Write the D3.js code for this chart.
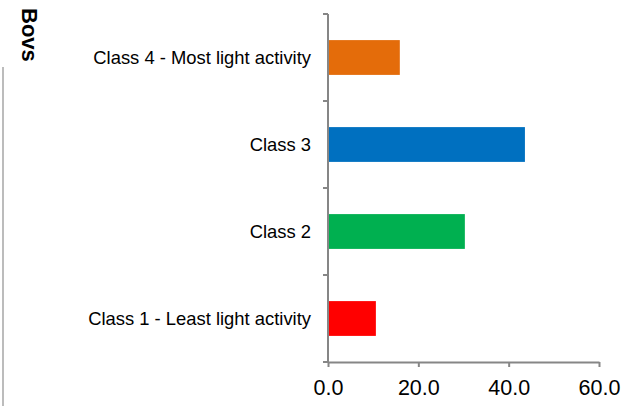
<!DOCTYPE html>
<html><head><meta charset="utf-8">
<script src="https://cdn.jsdelivr.net/npm/d3@7"></script>
<style>body{margin:0;background:#fff}svg{display:block}</style>
</head><body>
<script>
const categories = ["Class 4 - Most light activity","Class 3","Class 2","Class 1 - Least light activity"];
const values = [15.9, 43.6, 30.3, 10.6];
const colors = ["#E46C0A","#0070C0","#00B050","#FF0000"];
const xTicks = [0, 20, 40, 60];
const title = "Bovs";

(function(){
const W = 640, H = 406;
const FONT = "'Liberation Sans', Arial, sans-serif";
const svg = d3.select("body").append("svg").attr("width", W).attr("height", H);
const mLeft = 328, mRight = 599, mTop = 14, mBottom = 362;
const x = d3.scaleLinear().domain([0, 60]).range([mLeft, mRight]);
const y = d3.scaleBand().domain(categories).range([mTop, mBottom]).paddingInner(0.6).paddingOuter(0.3);

svg.selectAll("rect.bar").data(categories).enter().append("rect")
  .attr("x", x(0)).attr("y", d => y(d))
  .attr("width", (d,i) => x(values[i]) - x(0))
  .attr("height", y.bandwidth())
  .attr("fill", (d,i) => colors[i]);

const axisColor = "#868686";
const yLine = svg.append("g");
yLine.append("line").attr("x1", mLeft).attr("x2", mLeft).attr("y1", mTop).attr("y2", mBottom)
  .attr("stroke", axisColor).attr("stroke-width", 2);
const step = (mBottom - mTop) / categories.length;
d3.range(categories.length + 1).forEach(i => {
  yLine.append("line").attr("x1", mLeft - 5).attr("x2", mLeft).attr("y1", mTop + i*step).attr("y2", mTop + i*step)
    .attr("stroke", axisColor).attr("stroke-width", 2);
});
svg.selectAll("text.cat").data(categories).enter().append("text")
  .attr("x", 311).attr("y", d => y(d) + y.bandwidth()/2)
  .attr("dy", "0.35em").attr("text-anchor", "end")
  .attr("font-family", FONT).attr("font-size", 18.4)
  .attr("fill", "#000").text(d => d);

const xAxis = d3.axisBottom(x).tickValues(xTicks).tickFormat(d3.format(".1f")).tickSize(5).tickSizeOuter(0);
const gx = svg.append("g").attr("transform", `translate(0,${mBottom})`).call(xAxis);
gx.select(".domain").attr("stroke", axisColor).attr("stroke-width", 2);
gx.selectAll(".tick line").attr("stroke", axisColor).attr("stroke-width", 2);
gx.selectAll(".tick text").attr("font-family", FONT)
  .attr("font-size", 21.5).attr("fill", "#000").attr("dy", "0").attr("y", 33);

svg.append("text").attr("transform", "translate(22,8) rotate(90)")
  .attr("font-family", FONT).attr("font-weight", "bold")
  .attr("font-size", 22).attr("fill", "#000").attr("text-anchor", "start").text(title);

svg.append("line").attr("x1", 3).attr("x2", 3).attr("y1", 67).attr("y2", H)
  .attr("stroke", "#a6a6a6").attr("stroke-width", 1.5);
})();
</script>
</body></html>
